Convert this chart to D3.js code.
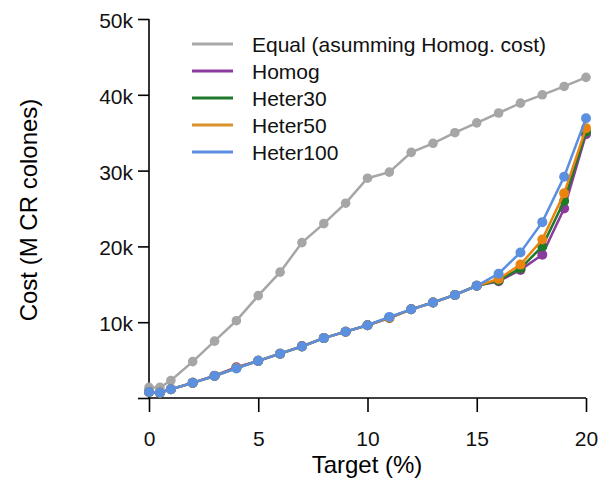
<!DOCTYPE html>
<html><head><meta charset="utf-8">
<script src="https://cdn.jsdelivr.net/npm/d3@7"></script>
<style>body{margin:0;background:#fff}svg{display:block;font-family:"Liberation Sans",Arial,sans-serif}</style>
</head><body>
<svg id="c" width="606" height="481"></svg>
<script>
const targets = [0,0.5,1,2,3,4,5,6,7,8,9,10,11,12,13,14,15,16,17,18,19,20];
const equalCost = [1.4,1.4,2.3,4.8,7.5,10.2,13.5,16.6,20.5,23.0,25.7,29.0,29.8,32.4,33.6,35.0,36.3,37.6,38.9,40.0,41.1,42.3];
const homog     = [0.8,0.7,1.15,2.0,2.95,4.05,4.9,5.85,6.85,7.9,8.75,9.6,10.55,11.7,12.6,13.6,14.8,15.4,16.9,18.9,25.0,34.8];
const heter30   = [0.8,0.7,1.15,2.0,2.9,3.95,4.9,5.85,6.8,7.9,8.75,9.6,10.6,11.7,12.6,13.6,14.8,15.5,17.1,20.0,26.0,35.1];
const heter50   = [0.8,0.7,1.15,2.0,2.9,3.95,4.9,5.85,6.8,7.9,8.75,9.6,10.6,11.7,12.6,13.6,14.8,15.7,17.6,20.9,27.0,35.6];
const heter100  = [0.8,0.7,1.15,2.0,2.9,3.9,4.9,5.85,6.8,7.9,8.75,9.6,10.7,11.7,12.6,13.6,14.8,16.4,19.2,23.2,29.2,36.9];
const seriesNames = ["Equal (asumming Homog. cost)","Homog","Heter30","Heter50","Heter100"];
const seriesColors = ["#a6a6a6","#8b3a9e","#1e7a2a","#e8840f","#5b8fdf"];
const legendColors = ["#a9a9a9","#8b3a9e","#1e7a2a","#d9922e","#5b8ee0"];
const xTicks = [0,5,10,15,20];
const yTicks = [0,10,20,30,40,50];
const yTickLabels = ["","10k","20k","30k","40k","50k"];

const allSeries = [equalCost,homog,heter30,heter50,heter100];
const svg = d3.select("#c");
const x = d3.scaleLinear().domain([0,20]).range([149,586]);
const y = d3.scaleLinear().domain([0,50]).range([398,19]);

// axes
const yAx = svg.append("g").attr("transform","translate(149,0)")
  .call(d3.axisLeft(y).tickValues(yTicks).tickFormat((d,i)=>yTickLabels[i]).tickSize(11).tickPadding(5));
const xAx = svg.append("g").attr("transform","translate(0,398)")
  .call(d3.axisBottom(x).tickValues(xTicks).tickFormat(d3.format("d")).tickSize(14).tickPadding(19));
[yAx,xAx].forEach(g=>{
  g.select(".domain").attr("stroke","#000").attr("stroke-width",1.6);
  g.selectAll(".tick line").attr("stroke","#000").attr("stroke-width",1.6);
  g.selectAll("text").attr("fill","#111").style("font-size","21px").style("font-family","'Liberation Sans',Arial,sans-serif");
});
yAx.select(".domain").attr("d","M0,398V19");
xAx.select(".domain").attr("d","M149,0H586");
yAx.selectAll(".tick text").attr("dy","0.4em");

svg.append("text").attr("x",367).attr("y",473).attr("text-anchor","middle")
  .style("font-size","24px").attr("fill","#000").text("Target (%)");
svg.append("text").attr("transform","translate(37,210) rotate(-90)").attr("text-anchor","middle")
  .style("font-size","24px").attr("fill","#000").text("Cost (M CR colones)");

const line = d3.line().x((d,i)=>x(targets[i])).y(d=>y(d));
allSeries.forEach((s,k)=>{
  const g = svg.append("g");
  g.append("path").attr("d",line(s)).attr("fill","none").attr("stroke",seriesColors[k]).attr("stroke-width",2.5);
  g.selectAll("circle").data(s).join("circle")
    .attr("cx",(d,i)=>x(targets[i])).attr("cy",d=>y(d)).attr("r",k===0?4.8:5)
    .attr("fill",seriesColors[k]);
});

// legend
const lg = svg.append("g");
seriesNames.forEach((n,k)=>{
  const yy = 44 + k*27;
  lg.append("line").attr("x1",192).attr("x2",233).attr("y1",yy).attr("y2",yy)
    .attr("stroke",legendColors[k]).attr("stroke-width",3);
  lg.append("text").attr("x",252).attr("y",yy).attr("dy","0.36em")
    .style("font-size","21px").attr("fill","#111").text(n);
});
</script>
</body></html>
